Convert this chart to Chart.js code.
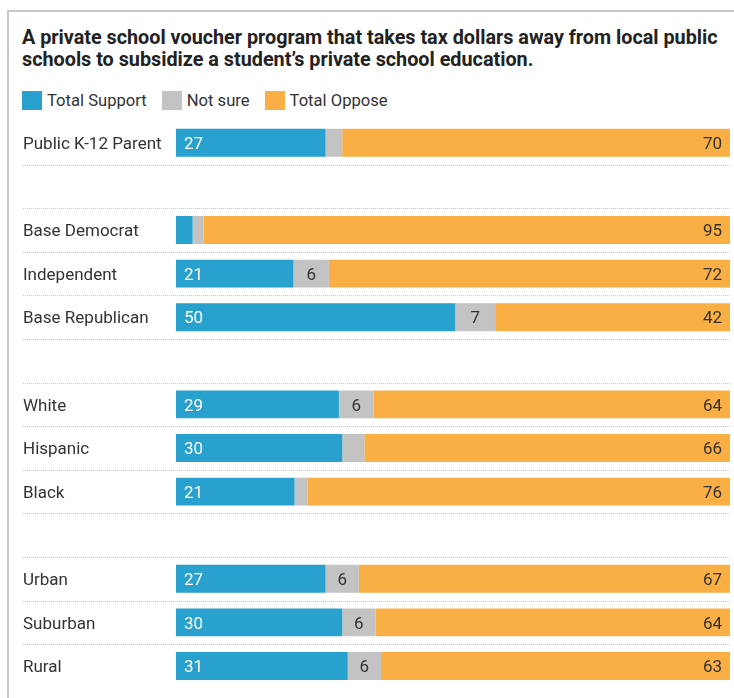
<!DOCTYPE html>
<html>
<head>
<meta charset="utf-8">
<script src="https://cdn.jsdelivr.net/npm/chart.js@4.4.1/dist/chart.umd.min.js"></script>
<style>
  body { margin: 0; background: #fff; font-family: Roboto, sans-serif; }
  #wrap { position: relative; width: 734px; height: 698px; overflow: hidden; }
  #frame { position: absolute; left: 7px; top: 10px; width: 800px; height: 800px;
           border-left: 2px solid #c6c6c6; border-top: 2px solid #c6c6c6; }
  #title { position: absolute; left: 22px; top: 27px; font-size: 19.8px; font-weight: 700;
           line-height: 22px; color: #222; white-space: nowrap; }
  #legend { position: absolute; left: 22px; top: 91px; display: flex; font-size: 16.6px; color: #333; }
  .item { display: flex; align-items: center; margin-right: 15px; height: 19px; }
  .box { width: 20px; height: 19px; margin-right: 5px; }
  canvas { position: absolute; left: 0; top: 0; }
</style>
</head>
<body>
<div id="wrap">
  <div id="frame"></div>
  <div id="title">A private school voucher program that takes tax dollars away from local public<br>schools to subsidize a student’s private school education.</div>
  <div id="legend"></div>
  <canvas id="chart" width="734" height="698"></canvas>
</div>
<script>
// rows (blank strings are the gaps between groups)
const categories = ["Public K-12 Parent", "", "Base Democrat", "Independent", "Base Republican", "",
  "White", "Hispanic", "Black", "", "Urban", "Suburban", "Rural"];
const seriesNames = ["Total Support", "Not sure", "Total Oppose"];
const support = [27, null, 3, 21.2, 50.4, null, 29.4, 30, 21.4, null, 27, 30, 31];
const notSure = [3, null, 2, 6.4, 7.2, null, 6.3, 4, 2.3, null, 6, 6, 6];
const oppose  = [70, null, 95, 72.4, 42.4, null, 64.3, 66, 76.3, null, 67, 64, 63];
const colors = ["#29a1ce", "#c3c3c3", "#f9af43"];

// html legend
const legend = document.getElementById("legend");
seriesNames.forEach((name, i) => {
  const item = document.createElement("div");
  item.className = "item";
  item.innerHTML = `<span class="box" style="background:${colors[i]}"></span>${name}`;
  legend.appendChild(item);
});

// dotted separators between rows
const separators = {
  id: "separators",
  beforeDatasetsDraw(chart) {
    const ctx = chart.ctx;
    const y = chart.scales.y;
    ctx.save();
    ctx.strokeStyle = "#c8c8c8";
    ctx.lineWidth = 1;
    ctx.setLineDash([1, 1]);
    for (let i = 0; i < categories.length - 1; i++) {
      const py = Math.round((y.getPixelForValue(i) + y.getPixelForValue(i + 1)) / 2) + 0.5;
      ctx.beginPath();
      ctx.moveTo(23, py);
      ctx.lineTo(chart.chartArea.right, py);
      ctx.stroke();
    }
    ctx.restore();
  }
};

// value labels inside the bars
const valueLabels = {
  id: "valueLabels",
  afterDatasetsDraw(chart) {
    const ctx = chart.ctx;
    ctx.save();
    ctx.font = "17px Roboto";
    ctx.textBaseline = "middle";
    chart.data.datasets.forEach((ds, di) => {
      chart.getDatasetMeta(di).data.forEach((bar, i) => {
        const v = ds.data[i];
        if (v == null) return;
        const left = Math.min(bar.x, bar.base), right = Math.max(bar.x, bar.base);
        if (di === 0) {
          if (v < 5) return;
          ctx.fillStyle = "#fff";
          ctx.textAlign = "left";
          ctx.fillText(Math.round(v), left + 8, bar.y + 2);
        } else if (di === 1) {
          if (v < 5) return;
          ctx.fillStyle = "#333";
          ctx.textAlign = "center";
          ctx.fillText(Math.round(v), (left + right) / 2, bar.y + 2);
        } else {
          ctx.fillStyle = "#333";
          ctx.textAlign = "right";
          ctx.fillText(Math.round(v), right - 8, bar.y + 2);
        }
      });
    });
    ctx.restore();
  }
};

Chart.defaults.font.family = "Roboto";

new Chart(document.getElementById("chart"), {
  type: "bar",
  data: {
    labels: categories,
    datasets: [support, notSure, oppose].map((d, i) => ({
      label: seriesNames[i],
      data: d,
      backgroundColor: colors[i],
      borderWidth: 0,
      categoryPercentage: 1,
      barPercentage: 0.64
    }))
  },
  options: {
    indexAxis: "y",
    responsive: false,
    animation: false,
    layout: { padding: { left: 23, right: 4, top: 121, bottom: 8 } },
    plugins: { legend: { display: false }, tooltip: { enabled: false } },
    scales: {
      x: { stacked: true, min: 0, max: 100, display: false },
      y: {
        stacked: true,
        grid: { display: false },
        border: { display: false },
        ticks: { crossAlign: "far", color: "#333", font: { size: 17 }, padding: 0, labelOffset: 2 },
        afterFit(scale) { scale.width = 153; }
      }
    }
  },
  plugins: [separators, valueLabels]
});
</script>
</body>
</html>
